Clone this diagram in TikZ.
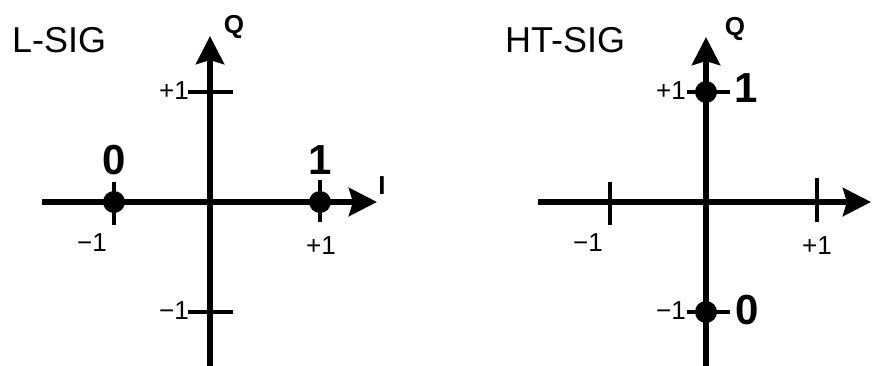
\documentclass[tikz,border=0pt]{standalone}
\usepackage{fontspec}
\setmainfont{Liberation Sans}
\usetikzlibrary{arrows.meta}
\begin{document}
\begin{tikzpicture}[x=1pt,y=-1pt,
  axis/.style={line width=6pt,-{Stealth[length=28pt,width=28pt,inset=4pt]}},
  tick/.style={line width=3.2pt},
  dot/.style={circle,fill=black,inner sep=0pt,minimum size=22pt},
  title/.style={inner sep=0pt,font=\fontsize{36}{36}\selectfont},
  ticklab/.style={inner sep=0pt,font=\fontsize{26}{26}\selectfont},
  axlab/.style={inner sep=0pt,font=\bfseries\fontsize{26}{26}\selectfont},
  bitlab/.style={inner sep=0pt,font=\bfseries\fontsize{42}{42}\selectfont}]
\useasboundingbox (0,0) rectangle (873,365);
% ---------- L-SIG ----------
\coordinate (Lxs) at (42,202);
\coordinate (Lxe) at (377,202);
\coordinate (Lys) at (210,366);
\coordinate (Lye) at (210,36);
\coordinate (LQp1) at (188,92); \coordinate (LQp2) at (233,92);
\coordinate (LQm1) at (188,312); \coordinate (LQm2) at (233,312);
\coordinate (LIm1) at (114,182); \coordinate (LIm2) at (114,225);
\coordinate (LIp1) at (320,180); \coordinate (LIp2) at (320,222);
\draw[tick] (LQp1) -- (LQp2);
\draw[tick] (LQm1) -- (LQm2);
\draw[tick] (LIm1) -- (LIm2);
\draw[tick] (LIp1) -- (LIp2);
\draw[axis] (Lxs) -- (Lxe);
\draw[axis] (Lys) -- (Lye);
\node[dot] (Ld0) at (114,202) {};
\node[dot] (Ld1) at (320,202) {};
\node[title,anchor=west] (Ltitle) at (12,40) {L-SIG};
\node[axlab] (LQ) at (234,27) {Q};
\node[axlab] (LI) at (382,186) {I};
\node[bitlab] (Lb0) at (114,160) {0};
\node[bitlab] (Lb1) at (320,160) {1};
\node[ticklab] (LxmL) at (92,243) {−1};
\node[ticklab] (LxpL) at (321,246) {+1};
\node[ticklab,anchor=east] (LypL) at (189,91) {+1};
\node[ticklab,anchor=east] (LymL) at (189,311) {−1};
% ---------- HT-SIG ----------
\coordinate (Hxs) at (538,202);
\coordinate (Hxe) at (871,202);
\coordinate (Hys) at (706,366);
\coordinate (Hye) at (706,37);
\coordinate (HQp1) at (687,92); \coordinate (HQp2) at (730,92);
\coordinate (HQm1) at (687,312); \coordinate (HQm2) at (730,312);
\coordinate (HIm1) at (610,182); \coordinate (HIm2) at (610,225);
\coordinate (HIp1) at (817,178); \coordinate (HIp2) at (817,222);
\draw[tick] (HQp1) -- (HQp2);
\draw[tick] (HQm1) -- (HQm2);
\draw[tick] (HIm1) -- (HIm2);
\draw[tick] (HIp1) -- (HIp2);
\draw[axis] (Hxs) -- (Hxe);
\draw[axis] (Hys) -- (Hye);
\node[dot] (Hd1) at (706,92) {};
\node[dot] (Hd0) at (706,312) {};
\node[title,anchor=west] (Htitle) at (505,40) {HT-SIG};
\node[axlab] (HQ) at (735,29) {Q};
\node[bitlab] (Hb1) at (746,88) {1};
\node[bitlab] (Hb0) at (747,310) {0};
\node[ticklab] (HxmL) at (588,243) {−1};
\node[ticklab] (HxpL) at (817,246) {+1};
\node[ticklab,anchor=east] (HypL) at (686,91) {+1};
\node[ticklab,anchor=east] (HymL) at (686,311) {−1};
\end{tikzpicture}
\end{document}
